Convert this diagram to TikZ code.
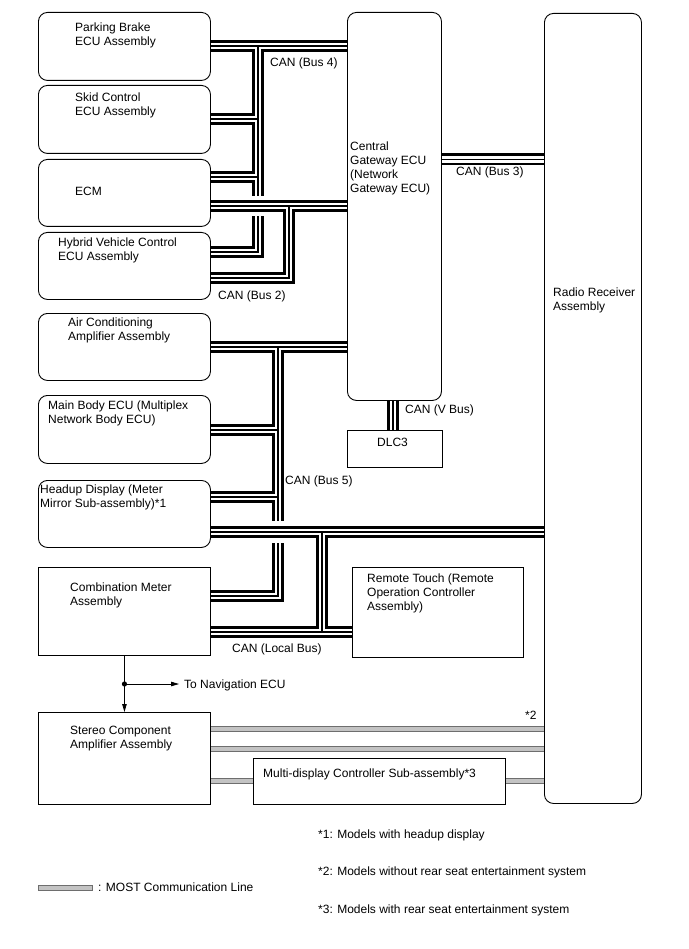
\documentclass[tikz,border=0pt]{standalone}
\usepackage{fontspec}
\setmainfont{Liberation Sans}
\usetikzlibrary{arrows.meta,calc}
\definecolor{mostedge}{RGB}{110,110,110}
\definecolor{mostfill}{RGB}{195,195,195}
\tikzset{
  rbox/.style={draw, line width=0.9pt, rounded corners=9pt, fill=white, inner sep=0pt, anchor=north west},
  sbox/.style={draw, line width=0.9pt, fill=white, inner sep=0pt, anchor=north west},
  txt/.style={font=\fontsize{12}{14}\selectfont, align=left, anchor=north west, inner sep=0pt},
  busO/.style={line width=12pt, black, line join=miter},
  busW/.style={line width=6.5pt, white, line join=miter},
  busI/.style={line width=1.2pt, black, line join=miter},
  busC/.style={line width=#1, white},
  mostO/.style={line width=5.5pt, mostedge},
  mostI/.style={line width=3.2pt, mostfill},
  arr/.style={line width=0.8pt, -{Triangle[length=8pt,width=4.5pt]}}
}
\begin{document}
\begin{tikzpicture}[x=1pt,y=-1pt]
\useasboundingbox[fill=white] (0,0) rectangle (688,949);

% boxes
\node[rbox, minimum width=172pt, minimum height=68pt] (pb) at (38,12) {};
\node[rbox, minimum width=172pt, minimum height=68pt] (sk) at (38,85) {};
\node[rbox, minimum width=172pt, minimum height=67pt] (ecm) at (38,159) {};
\node[rbox, minimum width=172pt, minimum height=67pt] (hv) at (38,232) {};
\node[rbox, minimum width=172pt, minimum height=67pt] (ac) at (38,313) {};
\node[rbox, minimum width=172pt, minimum height=68pt] (mb) at (38,395) {};
\node[rbox, minimum width=172pt, minimum height=67pt] (hud) at (38,480) {};
\node[sbox, minimum width=172pt, minimum height=88pt] (cm) at (38,567) {};
\node[sbox, minimum width=172pt, minimum height=92pt] (st) at (38,712) {};
\node[rbox, minimum width=94pt, minimum height=388pt] (gw) at (347,12) {};
\node[rbox, minimum width=97pt, minimum height=790pt] (rr) at (544,13) {};
\node[sbox, minimum width=95pt, minimum height=37pt] (dlc) at (347,430) {};
\node[sbox, minimum width=171pt, minimum height=90pt] (rt) at (352,567) {};
\node[sbox, minimum width=252pt, minimum height=46pt] (md) at (253,758) {};

% junction coordinates
\coordinate (j4) at (258,46);
\coordinate (b4sk) at (0,119);
\coordinate (b4ecm) at (0,177);
\coordinate (b4hv) at (0,252);
\coordinate (j2) at (289,206);
\coordinate (b2hv) at (0,278);
\coordinate (b3) at (0,159.5);
\coordinate (vb) at (393,0);
\coordinate (j5) at (278,347);
\coordinate (b5mb) at (0,430);
\coordinate (b5hud) at (0,497);
\coordinate (b5cm) at (0,596);
\coordinate (jl) at (322,532);
\coordinate (bl) at (0,632);
\coordinate (m1) at (0,729);
\coordinate (m2) at (0,749);
\coordinate (m3) at (0,781);

% Bus 4
\def\busfour{(pb.east |- j4) -- (gw.west |- j4)
  (j4) -- (j4 |- b4hv) -- (hv.east |- b4hv)
  (j4 |- b4sk) -- (sk.east |- b4sk)
  (j4 |- b4ecm) -- (ecm.east |- b4ecm)}
\draw[busO] \busfour; \draw[busW] \busfour; \draw[busI] \busfour;

% Bus 2
\draw[busC=20pt] (ecm.east |- j2) -- (gw.west |- j2);
\def\bustwo{(ecm.east |- j2) -- (gw.west |- j2)
  (j2) -- (j2 |- b2hv) -- (hv.east |- b2hv)}
\draw[busO] \bustwo; \draw[busW] \bustwo; \draw[busI] \bustwo;

% Bus 3
\def\busthree{(gw.east |- b3) -- (rr.west |- b3)}
\draw[busO] \busthree; \draw[busW] \busthree; \draw[busI] \busthree;

% V Bus
\def\busv{(gw.south -| vb) -- (dlc.north -| vb)}
\draw[busO] \busv; \draw[busW] \busv; \draw[busI] \busv;

% Bus 5
\def\busfive{(ac.east |- j5) -- (gw.west |- j5)
  (j5) -- (j5 |- b5cm) -- (cm.east |- b5cm)
  (j5 |- b5mb) -- (mb.east |- b5mb)
  (j5 |- b5hud) -- (hud.east |- b5hud)}
\draw[busO] \busfive; \draw[busW] \busfive; \draw[busI] \busfive;

% Local Bus
\draw[busC=22pt] (hud.east |- jl) -- (rr.west |- jl);
\def\buslocal{(hud.east |- jl) -- (rr.west |- jl)
  (jl) -- (jl |- bl)
  (cm.east |- bl) -- (rt.west |- bl)}
\draw[busO] \buslocal; \draw[busW] \buslocal; \draw[busI] \buslocal;

% MOST lines
\def\mostlines{(st.east |- m1) -- (rr.west |- m1)
  (st.east |- m2) -- (rr.west |- m2)
  (st.east |- m3) -- (md.west |- m3)
  (md.east |- m3) -- (rr.west |- m3)}
\draw[mostO] \mostlines; \draw[mostI] \mostlines;

% arrows
\coordinate (dot) at ($(cm.south)!0.5!(st.north)$);
\coordinate (dot) at (cm.south |- 0,684);
\coordinate (navtip) at (179,684);
\draw[arr] (cm.south) -- (st.north);
\draw[arr] (dot) -- (navtip);
\fill (dot) circle (2.6);

% legend bar
\node[draw=mostedge, fill=mostfill, line width=0.8pt, minimum width=54pt, minimum height=5pt, inner sep=0pt, anchor=west] (leg) at (38,887.5) {};

% texts
\node[txt] (tpb) at (75,22.5) {Parking Brake\\ECU Assembly};
\node[txt] (tsk) at (75,92.5) {Skid Control\\ECU Assembly};
\node[txt] (tecm) at (75,186.5) {ECM};
\node[txt] (thv) at (58,237.5) {Hybrid Vehicle Control\\ECU Assembly};
\node[txt] (tac) at (68,317.5) {Air Conditioning\\Amplifier Assembly};
\node[txt] (tmb) at (48,400.5) {Main Body ECU (Multiplex\\Network Body ECU)};
\node[txt] (thud) at (40,484.5) {Headup Display (Meter\\Mirror Sub-assembly)*1};
\node[txt] (tcm) at (70,582.5) {Combination Meter\\Assembly};
\node[txt] (tst) at (70,725.5) {Stereo Component\\Amplifier Assembly};
\node[txt] (tgw) at (350,141.5) {Central\\Gateway ECU\\(Network\\Gateway ECU)};
\node[txt] (trr) at (553,287.5) {Radio Receiver\\Assembly};
\node[txt] (tdlc) at (377,437.5) {DLC3};
\node[txt] (trt) at (367,573.5) {Remote Touch (Remote\\Operation Controller\\Assembly)};
\node[txt] (tmd) at (263,768.5) {Multi-display Controller Sub-assembly*3};

\node[txt] (l4) at (270,58) {CAN (Bus 4)};
\node[txt] (l2) at (218,290.5) {CAN (Bus 2)};
\node[txt] (l3) at (456,166.5) {CAN (Bus 3)};
\node[txt] (lv) at (405,404.5) {CAN (V Bus)};
\node[txt] (l5) at (285,475.5) {CAN (Bus 5)};
\node[txt] (ll) at (232,643.5) {CAN (Local Bus)};
\node[txt] (s2) at (525,710.5) {*2};
\node[txt] (nav) at (184,679.5) {To Navigation ECU};

\node[txt] (legt) at (98,882.5) {: MOST Communication Line};
\node[txt] (f1) at (318,829.5) {*1: Models with headup display};
\node[txt] (f2) at (318,866.5) {*2: Models without rear seat entertainment system};
\node[txt] (f3) at (318,904.5) {*3: Models with rear seat entertainment system};
\end{tikzpicture}
\end{document}
